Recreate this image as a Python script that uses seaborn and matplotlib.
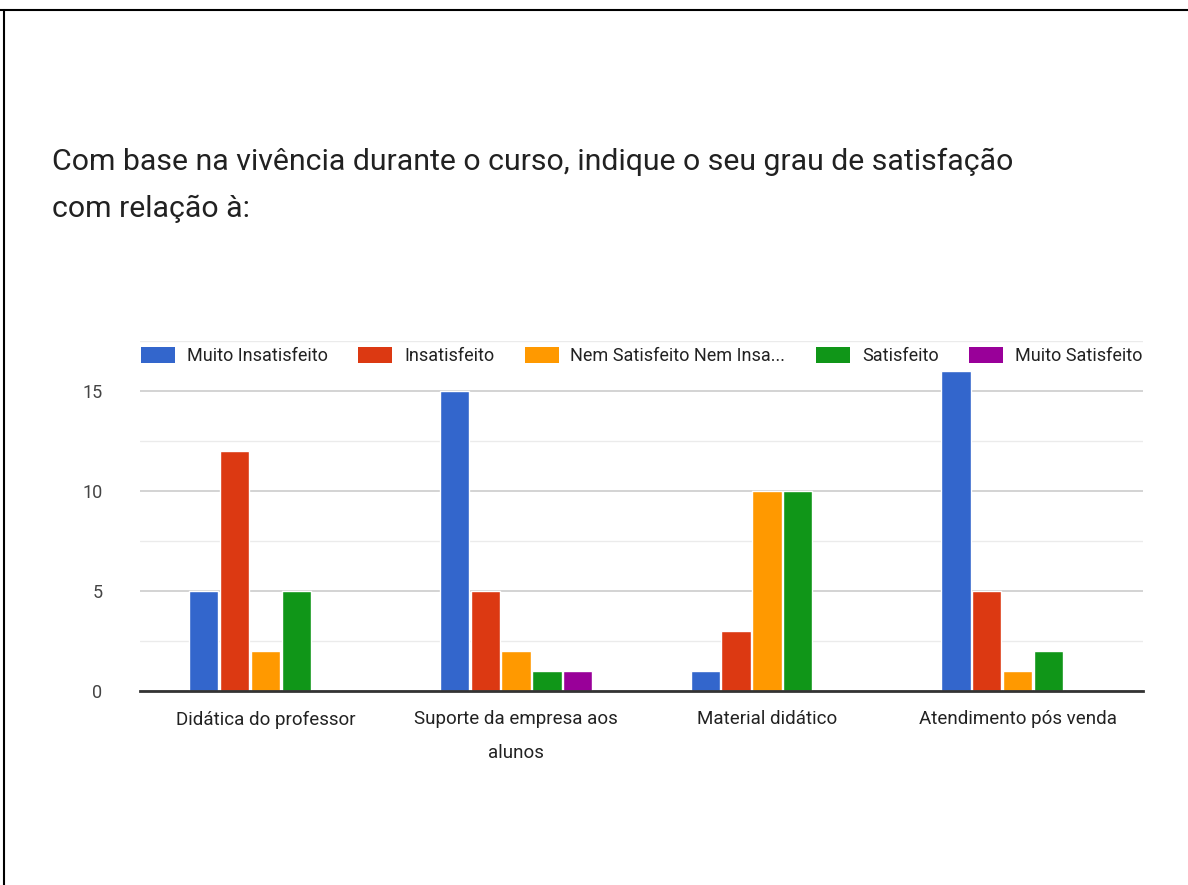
import matplotlib
matplotlib.use("Agg")
import matplotlib.pyplot as plt
from matplotlib.lines import Line2D
from matplotlib.patches import Patch
import numpy as np
import pandas as pd
import seaborn as sns

# Survey answers per course aspect
aspects = [
    "Didática do professor",
    "Suporte da empresa aos\nalunos",
    "Material didático",
    "Atendimento pós venda",
]
levels = [
    "Muito Insatisfeito",
    "Insatisfeito",
    "Nem Satisfeito Nem Insa...",
    "Satisfeito",
    "Muito Satisfeito",
]
muito_insatisfeito = [5, 15, 1, 16]
insatisfeito = [12, 5, 3, 5]
nem_nem = [2, 2, 10, 1]
satisfeito = [5, 1, 10, 2]
muito_satisfeito = [0, 1, 0, 0]

colors = ["#3366CC", "#DC3912", "#FF9900", "#109618", "#990099"]
title = ("Com base na vivência durante o curso, indique o seu grau de satisfação\n"
         "com relação à:")

series = [muito_insatisfeito, insatisfeito, nem_nem, satisfeito, muito_satisfeito]
rows = []
for lvl, vals in zip(levels, series):
    for asp, v in zip(aspects, vals):
        rows.append({"aspecto": asp, "nivel": lvl, "respostas": v})
df = pd.DataFrame(rows)

sns.set_theme(style="white")
fam = ["Roboto", "DejaVu Sans"]
plt.rcParams["font.family"] = fam

fig = plt.figure(figsize=(11.88, 8.85), dpi=100)
W, H = 1188, 885
ax = fig.add_axes([140 / W, 1 - 691 / H, 1003 / W, 350 / H])

sns.barplot(data=df, x="aspecto", y="respostas", hue="nivel",
            order=aspects, hue_order=levels, palette=colors,
            width=0.614, gap=0.05, saturation=1, ax=ax, legend=False)

ax.set_ylim(0, 17.5)
ax.set_xlim(-0.5, len(aspects) - 0.5)
ax.set_yticks([0, 5, 10, 15])
ax.set_yticks([2.5, 7.5, 12.5, 17.5], minor=True)
ax.grid(axis="y", which="major", color="#cccccc", linewidth=1.2, zorder=0)
ax.grid(axis="y", which="minor", color="#ebebeb", linewidth=1.0, zorder=0)
ax.set_axisbelow(True)
for s in ["top", "right", "left"]:
    ax.spines[s].set_visible(False)
ax.spines["bottom"].set_color("#333333")
ax.spines["bottom"].set_linewidth(2)
ax.set_xlabel("")
ax.set_ylabel("")
ax.set_xticks(range(len(aspects)))
ax.set_xticklabels(aspects, linespacing=2.1, va="top")
ax.tick_params(axis="y", which="both", length=0, pad=27, labelsize=13,
               labelcolor="#444444")
ax.tick_params(axis="x", length=0, pad=14, labelsize=13.5, labelcolor="#222222")

handles = [Patch(facecolor=c, edgecolor="none") for c in colors]
leg = ax.legend(handles, levels, ncol=5, loc="center",
                bbox_to_anchor=(0.5, 16.75 / 17.5), frameon=True,
                fontsize=13, handlelength=1.88, handleheight=0.95,
                handletextpad=0.66, columnspacing=1.69, borderpad=0.2)
leg.get_frame().set_facecolor("white")
leg.get_frame().set_edgecolor("none")
for t in leg.get_texts():
    t.set_color("#222222")

fig.text(52 / W, 1 - 148 / H, title, ha="left", va="top", fontsize=21.8,
         color="#212121", linespacing=1.85)

# page frame: top and left edges
fig.add_artist(Line2D([0, 1], [1 - 10 / H, 1 - 10 / H], color="black",
                      linewidth=1.5, transform=fig.transFigure))
fig.add_artist(Line2D([4 / W, 4 / W], [0, 1 - 10 / H], color="black",
                      linewidth=1.5, transform=fig.transFigure))

fig.savefig("out.png", dpi=100, facecolor="white", edgecolor="white")
